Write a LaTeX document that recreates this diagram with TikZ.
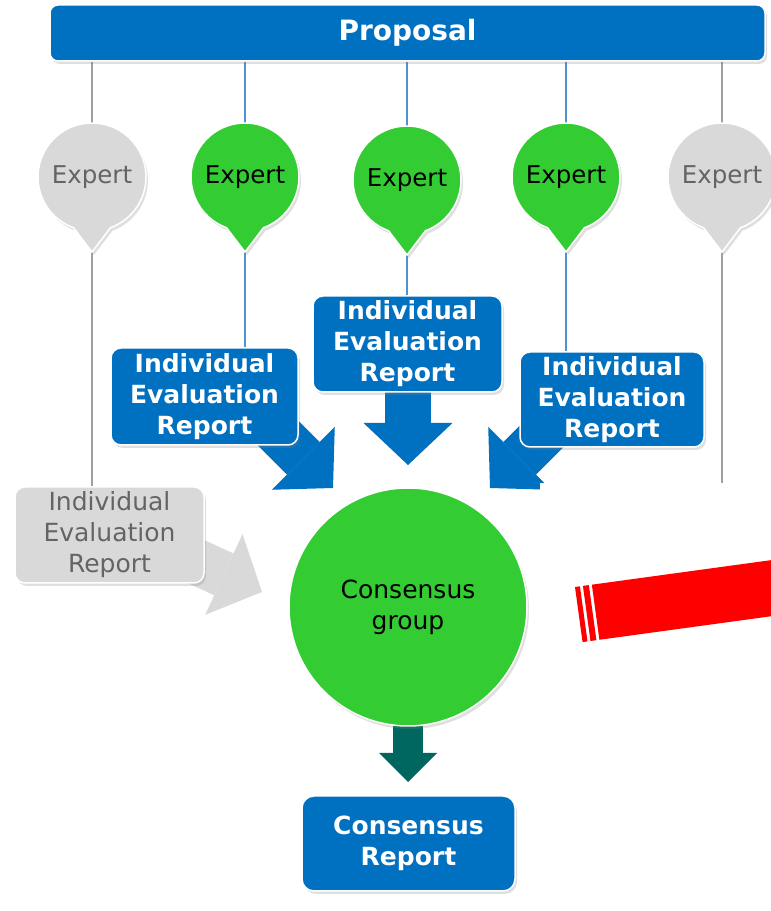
\documentclass[tikz,border=0pt]{standalone}
\usepackage{fontspec}
\setmainfont{DejaVu Sans}
\usetikzlibrary{positioning,calc,arrows.meta,backgrounds,shadows}

\definecolor{ecblue}{RGB}{0,112,192}
\definecolor{ecgreen}{RGB}{51,204,51}
\definecolor{ecgray}{RGB}{217,217,217}
\definecolor{ecgraytext}{RGB}{100,100,100}
\definecolor{ecteal}{RGB}{0,102,96}
\definecolor{eclineblue}{RGB}{80,146,208}
\definecolor{eclinegray}{RGB}{160,160,160}

\begin{document}
\begin{tikzpicture}[x=1pt,y=1pt]
\tikzstyle{shad}=[drop shadow={shadow xshift=2pt,shadow yshift=-3pt,opacity=.25}]
\tikzstyle{box}=[draw=white,line width=1.5pt,rounded corners=10pt,align=center,inner sep=0pt,shad]
\tikzstyle{bluebox}=[box,fill=ecblue,text=white,font=\fontsize{25}{31}\selectfont\bfseries]
\tikzstyle{graybox}=[box,fill=ecgray,text=ecgraytext,font=\fontsize{25}{31}\selectfont]
\tikzstyle{expert}=[circle,minimum size=108pt,inner sep=0pt,outer sep=0pt,font=\fontsize{24.5}{30}\selectfont]
\tikzstyle{balloon}=[draw=white,line width=1.5pt,shad]
\tikzstyle{wire}=[line width=2pt]
\tikzstyle{bigarrow}=[line width=46pt,-{Triangle[length=42pt,width=89pt,line width=0pt]}]
\useasboundingbox (0,0) rectangle (771,911);
\clip (0,0) rectangle (771,911);
\node [bluebox,rounded corners=8pt,minimum width=715pt,minimum height=56pt,font=\fontsize{28}{34}\selectfont\bfseries] (prop) at (407.5,878) {Proposal};
\node [expert,text=ecgraytext] (e1) at (92,734) {Expert};
\node [expert] (e2) at (245,734) {Expert};
\node [expert] (e3) at (407,731) {Expert};
\node [expert] (e4) at (566,734) {Expert};
\node [expert,text=ecgraytext] (e5) at (722,734) {Expert};
\node [bluebox,minimum width=187pt,minimum height=97pt] (ier1) at (204.5,514.5) {Individual\\Evaluation\\Report};
\node [bluebox,minimum width=189pt,minimum height=96pt] (ier2) at (407.5,567) {Individual\\Evaluation\\Report};
\node [bluebox,minimum width=184pt,minimum height=95pt] (ier3) at (612,511.5) {Individual\\Evaluation\\Report};
\node [graybox,minimum width=189pt,minimum height=96pt] (ier0) at (109.5,376) {Individual\\Evaluation\\Report};
\node [circle,fill=ecgreen,draw=white,line width=1.5pt,minimum size=238pt,inner sep=0pt,align=center,font=\fontsize{25}{31}\selectfont,shad] (cg) at (408,304) {Consensus\\group};
\node [bluebox,rounded corners=12pt,minimum width=213pt,minimum height=95pt] (cr) at (408.5,67.5) {Consensus\\Report};
\node [fill=white,inner sep=0pt,outer sep=0pt,anchor=north west,minimum width=240pt,minimum height=430pt] (cover) at (540,428) {};
\coordinate (s1) at (233,523); \coordinate (t1) at (333,423);
\coordinate (s2) at (408,531); \coordinate (t2) at (408,446);
\coordinate (s3) at (590,523); \coordinate (t3) at (490,423);
\coordinate (s0) at (171,361); \coordinate (t0) at (262,319);
\coordinate (s4) at (408,200); \coordinate (t4) at (408,129);
% striped bar on the right
\begin{scope}[shift={(575,324)},rotate=7.8]
\fill [red] (0,0) rectangle (5,-55.6);
\fill [red] (8,0) rectangle (14,-55.6);
\fill [red] (17,0) rectangle (230,-55.6);
\end{scope}
\begin{scope}[on background layer]
\draw [wire,eclinegray] (e1 |- prop.south) -- (e1 |- ier0.north);
\draw [wire,eclineblue] (e2 |- prop.south) -- (e2 |- ier1.north);
\draw [wire,eclineblue] (e3 |- prop.south) -- (e3 |- ier2.north);
\draw [wire,eclineblue] (e4 |- prop.south) -- (e4 |- ier3.north);
\draw [wire,eclinegray] (e5 |- prop.south) -- (e5 |- cover.north);
\foreach \e/\c in {e1/ecgray,e2/ecgreen,e3/ecgreen,e4/ecgreen,e5/ecgray}
  \path [balloon,fill=\c] (\e.-70) -- ($(\e.center)+(0,-75)$) -- (\e.-110) arc[start angle=250,end angle=-70,radius=54pt] -- cycle;
\draw [bigarrow,ecblue] (s1) -- (t1);
\draw [bigarrow,ecblue] (s2) -- (t2);
\draw [bigarrow,ecblue] (s3) -- (t3);
\draw [bigarrow,ecgray] (s0) -- (t0);
\draw [line width=30pt,ecteal,-{Triangle[length=29pt,width=58pt,line width=0pt]}] (s4) -- (t4);
\end{scope}
\end{tikzpicture}
\end{document}
